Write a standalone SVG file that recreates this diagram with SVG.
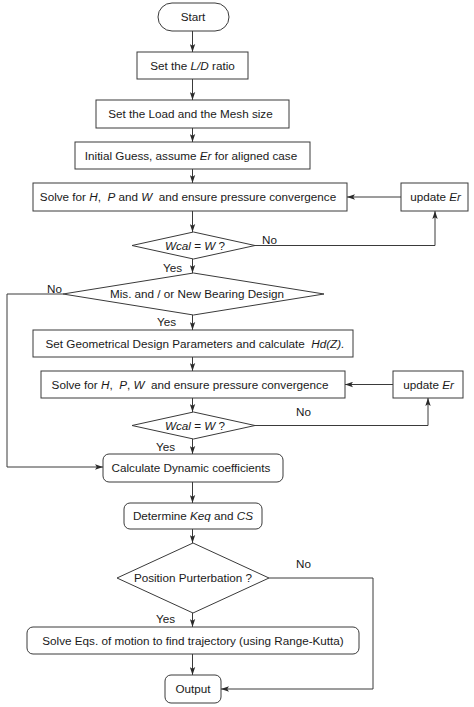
<svg xmlns="http://www.w3.org/2000/svg" width="474" height="707" viewBox="0 0 474 707">
<defs>
<style>
.n{fill:#fff;stroke:#3a3a3a;stroke-width:1}
.c{fill:none;stroke:#3a3a3a;stroke-width:1}
text{font-family:"Liberation Sans",Arial,sans-serif;font-size:11.7px;fill:#1a1a1a}
.m{text-anchor:middle}
.i{font-style:italic}
</style>
<marker id="a" markerWidth="9" markerHeight="6" refX="8" refY="3" orient="auto" markerUnits="userSpaceOnUse">
<path d="M0,0.3 L8,3 L0,5.7 L1.8,3 Z" fill="#2a2a2a"/>
</marker>
</defs>
<rect width="474" height="707" fill="#fff"/>
<g id="connectors">
<path class="c" marker-end="url(#a)" d="M192.5,31V52"/>
<path class="c" marker-end="url(#a)" d="M192.5,79V100"/>
<path class="c" marker-end="url(#a)" d="M192.5,128V142"/>
<path class="c" marker-end="url(#a)" d="M192.5,169V183"/>
<path class="c" marker-end="url(#a)" d="M192.5,211V232"/>
<path class="c" marker-end="url(#a)" d="M192.5,259V273"/>
<path class="c" marker-end="url(#a)" d="M192.5,315V330"/>
<path class="c" marker-end="url(#a)" d="M192.5,357V371"/>
<path class="c" marker-end="url(#a)" d="M192.5,398V412"/>
<path class="c" marker-end="url(#a)" d="M192.5,439V454"/>
<path class="c" marker-end="url(#a)" d="M192.5,482V503"/>
<path class="c" marker-end="url(#a)" d="M192.5,529V543"/>
<path class="c" marker-end="url(#a)" d="M192.5,613V627"/>
<path class="c" marker-end="url(#a)" d="M192.5,654V675"/>
<path class="c" marker-end="url(#a)" d="M255,245.5H435V211"/>
<path class="c" marker-end="url(#a)" d="M401,197H347"/>
<path class="c" marker-end="url(#a)" d="M255,425.5H428V398"/>
<path class="c" marker-end="url(#a)" d="M393,384.5H345"/>
<path class="c" marker-end="url(#a)" d="M63,294H7V467H103"/>
<path class="c" marker-end="url(#a)" d="M269,578H373V689H221"/>
<text x="262" y="244">No</text>
<text x="163" y="271.5">Yes</text>
<text x="47" y="293">No</text>
<text x="157" y="326">Yes</text>
<text x="296" y="416">No</text>
<text x="156" y="451">Yes</text>
<text x="296" y="568">No</text>
<text x="156" y="623">Yes</text>
</g>
<g id="start">
<rect class="n" x="158" y="3" width="71" height="28" rx="14"/>
<text class="m" x="193" y="21.2">Start</text>
</g>
<g id="ld">
<rect class="n" x="137" y="52" width="111" height="27"/>
<text class="m" x="192.5" y="69.7">Set the <tspan class="i">L/D</tspan> ratio</text>
</g>
<g id="load">
<rect class="n" x="96" y="100" width="193" height="28"/>
<text class="m" x="190.5" y="118.2">Set the Load and the Mesh size</text>
</g>
<g id="guess">
<rect class="n" x="75" y="142" width="235" height="27"/>
<text class="m" x="191" y="159.7" xml:space="preserve">Initial Guess, assume <tspan class="i">Er</tspan> for aligned case</text>
</g>
<g id="solve1">
<rect class="n" x="33" y="183" width="314" height="28"/>
<text class="m" x="188" y="201.2" xml:space="preserve">Solve for <tspan class="i">H</tspan>,  <tspan class="i">P</tspan> and <tspan class="i">W</tspan>  and ensure pressure convergence</text>
</g>
<g id="update1">
<rect class="n" x="401" y="183" width="67" height="28"/>
<text class="m" x="435.5" y="201.2">update <tspan class="i">Er</tspan></text>
</g>
<g id="check1">
<polygon class="n" points="132,245.5 193.5,232 255,245.5 193.5,259"/>
<text class="m" x="195" y="249.7"><tspan class="i">Wcal</tspan> = <tspan class="i">W</tspan> ?</text>
</g>
<g id="design">
<polygon class="n" points="63,294 193.5,273 324,294 193.5,315"/>
<text class="m" x="197" y="298.2">Mis. and / or New Bearing Design</text>
</g>
<g id="geom">
<rect class="n" x="33" y="330" width="320" height="27"/>
<text class="m" x="195" y="347.7" xml:space="preserve">Set Geometrical Design Parameters and calculate  <tspan class="i">Hd(Z).</tspan></text>
</g>
<g id="solve2">
<rect class="n" x="41" y="371" width="304" height="27"/>
<text class="m" x="190" y="388.7" xml:space="preserve">Solve for <tspan class="i">H</tspan>,  <tspan class="i">P</tspan>, <tspan class="i">W</tspan>  and ensure pressure convergence</text>
</g>
<g id="update2">
<rect class="n" x="393" y="371" width="70" height="27"/>
<text class="m" x="428.5" y="388.7">update <tspan class="i">Er</tspan></text>
</g>
<g id="check2">
<polygon class="n" points="132,425.5 193.5,412 255,425.5 193.5,439"/>
<text class="m" x="195" y="429.7"><tspan class="i">Wcal</tspan> = <tspan class="i">W</tspan> ?</text>
</g>
<g id="dynamic">
<rect class="n" x="103" y="454" width="180" height="28" rx="6"/>
<text class="m" x="191" y="472.2">Calculate Dynamic coefficients</text>
</g>
<g id="keq">
<rect class="n" x="124" y="503" width="138" height="26" rx="6"/>
<text class="m" x="193" y="520.2">Determine <tspan class="i">Keq</tspan> and <tspan class="i">CS</tspan></text>
</g>
<g id="perturb">
<polygon class="n" points="117,578 193,543 269,578 193,613"/>
<text class="m" x="193" y="582.2">Position Purterbation ?</text>
</g>
<g id="motion">
<rect class="n" x="27" y="627" width="332" height="27" rx="6"/>
<text class="m" x="193" y="644.7">Solve Eqs. of motion to find trajectory (using Range-Kutta)</text>
</g>
<g id="output">
<rect class="n" x="165" y="675" width="56" height="28" rx="6"/>
<text class="m" x="193" y="693.2">Output</text>
</g>
</svg>
